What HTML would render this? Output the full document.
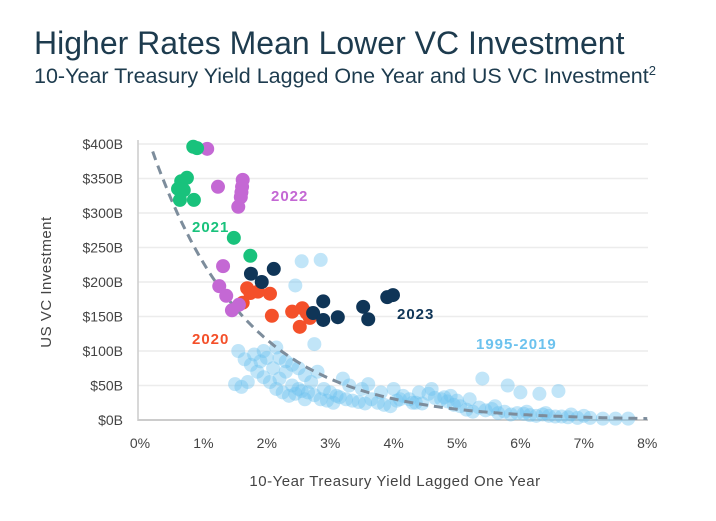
<!DOCTYPE html>
<html><head><meta charset="utf-8"><style>
body{margin:0;background:#fff;width:716px;height:516px;overflow:hidden;font-family:"Liberation Sans",sans-serif}
svg text{font-family:"Liberation Sans",sans-serif}
</style></head><body>
<svg id="c" width="716" height="516">
<text x="34" y="54" font-size="32" fill="#1d3b4e">Higher Rates Mean Lower VC Investment</text>
<text x="34" y="83" font-size="21.5" fill="#1d3b4e">10-Year Treasury Yield Lagged One Year and  US VC Investment<tspan font-size="13" dy="-8">2</tspan></text>
<g id="grid"></g><g id="pts"></g><g id="lbl"></g>
<text transform="translate(51,282) rotate(-90)" text-anchor="middle" font-size="15" fill="#444" letter-spacing="0.5">US VC Investment</text>
<text x="395" y="486" text-anchor="middle" font-size="15" fill="#444" letter-spacing="0.5">10-Year Treasury Yield Lagged One Year</text>
</svg>
<script>
const yTicks=[0,50,100,150,200,250,300,350,400];
const xTicks=[0,1,2,3,4,5,6,7,8];
const g2020x=[1.69,1.74,1.86,2.05,1.62,2.08,2.40,2.56,2.68,2.52,2.63];
const g2020y=[191,184,186,183,170,151,157,162,148,135,155];
const g2021x=[0.84,0.90,0.65,0.74,0.60,0.69,0.63,0.85,1.48,1.74];
const g2021y=[396,394,346,351,335,333,319,319,264,238];
const g2022x=[1.06,1.23,1.62,1.61,1.60,1.59,1.55,1.31,1.25,1.36,1.56,1.45];
const g2022y=[393,338,348,338,330,323,309,223,194,180,167,159];
const g2023x=[1.75,1.92,2.11,2.89,2.73,2.89,3.12,3.52,3.60,3.90,3.99];
const g2023y=[212,200,219,172,155,145,149,164,146,178,181];
const histX=[1.5,1.6,1.7,1.8,1.9,2.0,2.1,2.2,2.3,2.4,2.5,2.6,1.55,1.65,1.75,1.85,1.95,2.05,2.15,2.25,2.35,2.45,2.55,2.65,2.75,2.85,2.95,3.05,3.15,3.25,3.35,3.45,3.55,3.65,3.75,3.85,3.95,4.05,4.15,4.25,4.35,4.45,4.55,4.65,4.75,4.85,4.95,5.05,5.15,5.25,5.35,5.45,5.55,5.65,5.75,5.85,5.95,6.05,6.15,6.25,6.35,6.45,6.55,6.65,6.75,6.9,7.1,7.3,7.5,7.7,2.3,2.5,2.6,2.7,2.9,3.0,3.1,3.3,3.5,3.8,4.1,4.3,4.6,4.9,5.2,5.4,5.8,6.0,6.3,6.6,2.2,2.4,2.8,3.2,3.6,4.0,4.4,4.8,5.0,5.6,6.1,6.4,6.8,7.0,2.55,2.85,2.45,2.75,1.95,2.15];
const histY=[52,48,55,95,85,90,75,60,70,50,45,30,100,88,80,70,62,55,45,40,35,38,42,40,36,30,28,25,33,30,28,26,24,30,25,22,20,28,35,30,25,24,38,32,30,27,22,20,15,12,18,14,16,10,12,8,10,9,7,6,8,6,5,5,4,3,3,2,2,2,85,75,65,55,45,40,35,50,45,40,30,25,45,35,30,60,50,40,38,42,90,80,70,60,52,45,40,33,28,20,12,10,8,6,230,232,195,110,100,105];
const X=v=>140+v*63.4, Y=v=>420-v*0.69;
const ns='http://www.w3.org/2000/svg';
const grid=document.getElementById('grid'),pts=document.getElementById('pts'),lbl=document.getElementById('lbl');
function mk(t,p,a){const e=document.createElementNS(ns,t);for(const k in a)e.setAttribute(k,a[k]);p.appendChild(e);return e;}
yTicks.forEach(v=>{
 const l=mk('line',grid,{x1:138,x2:648,y1:Y(v),y2:Y(v),stroke:v?'#ececec':'#bbb','stroke-width':1.5});
 
 
 const t=mk('text',grid,{x:123,y:Y(v)+5,'text-anchor':'end','font-size':14,fill:'#444'});
 t.textContent='$'+v+'B';
 
 
});
const ax=mk('line',grid,{x1:138,x2:138,y1:140,y2:421,stroke:'#ccc','stroke-width':1.5});


xTicks.forEach(v=>{
 const t=mk('text',grid,{x:X(v),y:448,'text-anchor':'middle','font-size':14,fill:'#444'});
 t.textContent=v+'%';
 
 
});
function series(xs,ys,col,op,name){
 xs.forEach((x,i)=>{
  const c=mk('circle',pts,{cx:X(x),cy:Y(ys[i]),r:7,fill:col,'fill-opacity':op});
  
  
 });
}
series(histX,histY,'#6cc2ee',0.42,'point-1995-2019');
let d='';for(let x=0.2;x<=8.001;x+=0.05){d+=(d?'L':'M')+X(x).toFixed(1)+','+Y(445*Math.exp(-0.67*x)).toFixed(1);}
const tl=mk('path',pts,{d:d,fill:'none',stroke:'#7d8d9c','stroke-width':3,'stroke-dasharray':'9 6'});


series(g2020x,g2020y,'#f4502a',1,'point-2020');
series(g2022x,g2022y,'#c468d4',1,'point-2022');
series(g2021x,g2021y,'#19c27c',1,'point-2021');
series(g2023x,g2023y,'#0f3557',1,'point-2023');
const bg=mk('rect',lbl,{x:472,y:328,width:100,height:22,fill:'#fff'});


[['2022',271,201,'#c468d4'],['2021',192,232,'#19c27c'],['2020',192,344,'#f4502a'],['2023',397,319,'#0f3557'],['1995-2019',476,349,'#6cc2ee']].forEach(a=>{
 const t=mk('text',lbl,{x:a[1],y:a[2],'font-size':15,fill:a[3],'font-weight':'bold','letter-spacing':'1'});
 t.textContent=a[0];
 
 
});
</script>
</body></html>
